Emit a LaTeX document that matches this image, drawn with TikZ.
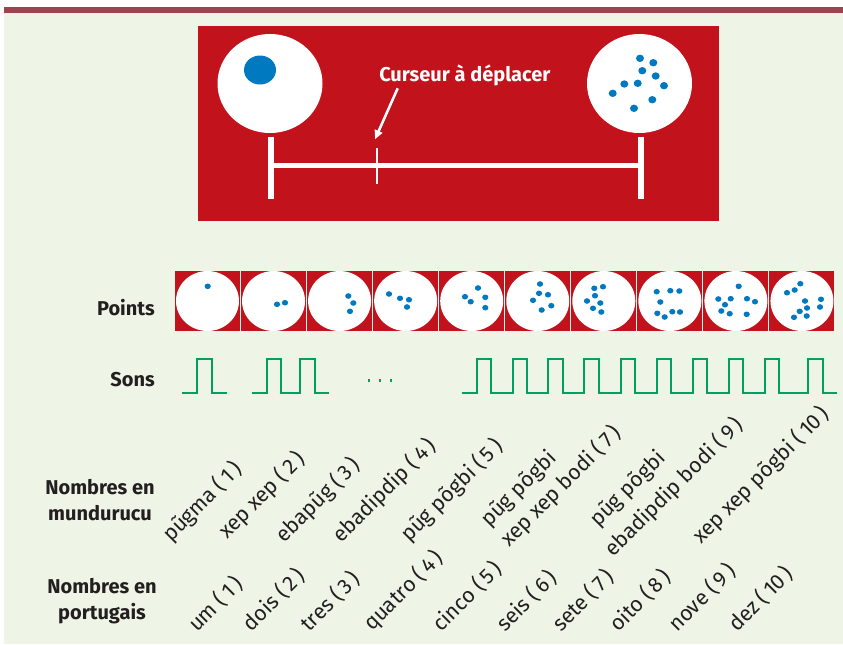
\documentclass[tikz,border=0pt]{standalone}
\usepackage{fontspec}
\setmainfont{Fira Sans}
\usetikzlibrary{arrows.meta}
\definecolor{pagebg}{HTML}{EEF4E6}
\definecolor{barred}{HTML}{9B4450}
\definecolor{panelred}{HTML}{C2121C}
\definecolor{dotblue}{HTML}{0079C1}
\definecolor{wavegreen}{HTML}{00A062}
\definecolor{ink}{HTML}{231F20}
\newcommand{\nb}[1]{(\,#1\,)}
\begin{document}
\begin{tikzpicture}[x=0.75pt,y=-0.75pt,
  rowlabel/.style={font=\bfseries\fontsize{15}{19.5}\selectfont, text=ink, inner sep=0, align=center},
  numlabel/.style={font=\fontsize{16}{18}\selectfont, text=ink, rotate=45, anchor=base west, inner sep=0},
  wave/.style={draw=wavegreen, line width=1.5pt, line join=miter},
  cellbox/.style={fill=panelred},
]
% page and header bar
\useasboundingbox (0,0) rectangle (843,644);
\fill[white] (0,0) rectangle (843,644);
\fill[pagebg] (4,13) rectangle (843,644);
\fill[barred] (4,7) rectangle (843,13);

% slider panel
\fill[panelred] (198,26) rectangle (719,221);
\fill[white] (270,83.5) ellipse (52.5 and 49.5);
\fill[white] (639.5,83.5) ellipse (52.5 and 49.5);
\fill[dotblue] (260,70) ellipse (16 and 14.5);
\foreach \p in {(640,58.3),(653.3,62.7),(642.3,70.7),(655.7,76),(624.3,84),(637.7,83.3),(664,85.7),(612.7,93.3),(652.3,99.7),(634,108.3)}
  \fill[dotblue] \p ellipse (4 and 3.7);
\coordinate (lefttop) at (271,136.7);
\coordinate (leftbot) at (271,198.7);
\coordinate (righttop) at (640.5,136.7);
\coordinate (rightbot) at (640.5,198.7);
\draw[white, line width=4.5pt] (lefttop) -- (leftbot);
\draw[white, line width=4.5pt] (righttop) -- (rightbot);
\draw[white, line width=3.4pt] (271,165.7) -- (640.5,165.7);
\coordinate (curtop) at (377,147.7);
\coordinate (curbot) at (377,184.3);
\draw[white, line width=1.9pt] (curtop) -- (curbot);
\node[font=\bfseries\fontsize{15}{18}\selectfont, text=white, anchor=base west, inner sep=0] (cursor) at (379,81) {Curseur à déplacer};
\coordinate (arrowtail) at (397.7,88.3);
\coordinate (arrowtip) at (375,139.3);
\draw[white, line width=1.9pt, -{Triangle[length=6.75pt,width=6pt]}] (arrowtail) -- (arrowtip);

% dot cards
\foreach \i in {0,...,9} {
  \fill[cellbox] ({175+66.05*\i},271) rectangle ++(65,60);
  \fill[white] ({175+66.05*\i+32.5},301) ellipse (31.5 and 30);
}
\foreach \p in {
  (207.7,286.3),
  (277,304.3),(285,302.7),
  (348.3,296),(353.3,303),(350,311.3),
  (389,294),(400,298.3),(409,299.7),(407,307),
  (478,288),(465,296.7),(470.7,301.7),(485.3,297.3),(485.3,307.7),
  (540,284),(539,293.3),(548,294.7),(533,300.3),(551.3,305.7),(541.7,310),
  (603,286.7),(594.3,288.3),(595,295.7),(587,301),(600.3,303),(593,308.3),(601.3,312),
  (656.7,291.7),(670.3,290.7),(679.3,291),(660.3,302),(657.3,313.3),(664.7,317),(672.3,311.7),(680,312),
  (738.7,286.3),(718.3,299),(730.7,298.7),(747,298.7),(755,301.7),(725,304.7),(721.3,311),(729.7,313.7),(746.7,314.3),
  (800.3,283.7),(794.7,290),(787,292.7),(805,301),(821,299.3),(807,308),(820,307),(799.7,311.3),(806.7,316),(794,317.3)}
  \fill[dotblue] \p ellipse (3.1 and 2.8);

% sound pulses
\draw[wave, line width=1.35pt] (182.3,392.7) -| (196.7,359) -| (211.7,392.7) -- (226.7,392.7);
\draw[wave, line width=1.35pt] (252.3,392.7) -| (266.7,359) -| (281.3,392.7) -| (300,359) -| (314.7,392.7) -- (329.3,392.7);
\foreach \x in {369,380,391} \fill[wavegreen] (\x-1.4,379.3) rectangle ++(2.8,2.8);
\draw[wave] (461.7,392.7)
  -| (476.7,359) -| (490.7,392.7)
  -| (512.7,359) -| (526.7,392.7)
  -| (548.3,359) -| (562.7,392.7)
  -| (584.3,359) -| (598.7,392.7)
  -| (620.7,359) -| (634.7,392.7)
  -| (656.7,359) -| (670.7,392.7)
  -| (692.7,359) -| (707,392.7)
  -| (728.7,359) -| (743.3,392.7)
  -| (764.7,359) -| (779.3,392.7)
  -| (808.3,359) -| (822.7,392.7)
  -- (836.7,392.7);

% row labels
\node[rowlabel, anchor=base east] (lpoints) at (155,315) {Points};
\node[rowlabel, anchor=base east] (lsons) at (155,386.5) {Sons};
\node[rowlabel] (lmund) at (100,500) {Nombres en\\mundurucu};
\node[rowlabel] (lport) at (102,601) {Nombres en\\portugais};

% Mundurucu number words
\node[numlabel] (m1) at (171,543) {pũgma \nb{1}};
\node[numlabel] (m2) at (227,540) {xep xep \nb{2}};
\node[numlabel] (m3) at (284,544) {ebapũg \nb{3}};
\node[numlabel] (m4) at (341,544) {ebadipdip \nb{4}};
\node[numlabel] (m5) at (409,543) {pũg põgbi \nb{5}};
\node[numlabel] (m7a) at (489,528) {pũg põgbi};
\node[numlabel] (m7b) at (509,548) {xep xep bodi \nb{7}};
\node[numlabel] (m9a) at (598,528) {pũg põgbi};
\node[numlabel] (m9b) at (613,558) {ebadipdip bodi \nb{9}};
\node[numlabel] (m10) at (701,545) {xep xep põgbi \nb{10}};

% Portuguese number words
\node[numlabel] (p1) at (197,633) {um \nb{1}};
\node[numlabel] (p2) at (251,633) {dois \nb{2}};
\node[numlabel] (p3) at (309,633) {tres \nb{3}};
\node[numlabel] (p4) at (372,632) {quatro \nb{4}};
\node[numlabel] (p5) at (441,633) {cinco \nb{5}};
\node[numlabel] (p6) at (505,633) {seis \nb{6}};
\node[numlabel] (p7) at (561,633) {sete \nb{7}};
\node[numlabel] (p8) at (618,633) {oito \nb{8}};
\node[numlabel] (p9) at (677,633) {nove \nb{9}};
\node[numlabel] (p10) at (737,633) {dez \nb{10}};
\end{tikzpicture}
\end{document}
